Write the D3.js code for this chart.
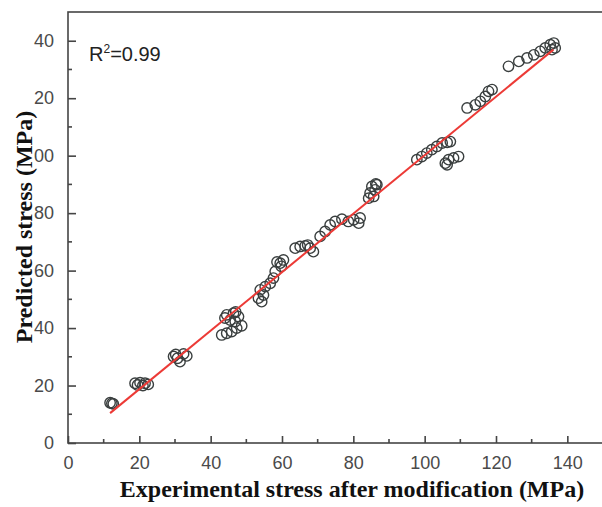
<!DOCTYPE html>
<html>
<head>
<meta charset="utf-8">
<script src="https://cdn.jsdelivr.net/npm/d3@7"></script>
<style>
  body { margin: 0; background: #fff; }
  svg { display: block; }
</style>
</head>
<body>
<svg id="chart" width="602" height="507"></svg>
<script>
// experimental (x) vs predicted (y)
var expStress = [
  11.8, 12.3, 12.7,
  18.8, 20.2, 21.6, 22.5, 19.5, 21,
  29.6, 30.7, 32.4, 33.3, 31.4, 30.2,
  44.5, 46.4, 47.8, 43.1, 44.5, 45.9, 47.3, 48.7, 45.5, 46.9, 44, 47,
  53.4, 54.3, 54.8, 53.9, 55.3, 56.7, 57.6, 58.1, 59.5, 60.4, 59.8, 58.6,
  63.7, 65.1, 66.5, 67.9, 68.8, 67.2,
  70.7, 72.1, 73.5, 74.9, 76.8, 78.6, 80.1, 81.9, 81.5,
  85.2, 86.1, 86.6, 84.7, 84.3, 85.7, 86.3,
  97.8, 99.2, 100.6, 102.0, 103.4, 104.9, 106.3, 107.2,
  105.8, 106.7, 108.1, 109.5, 106.3,
  111.9, 114.2, 115.6, 117.0, 117.9, 118.9,
  123.5, 126.4, 128.7, 130.6, 132.4, 133.8, 135.2, 136.2, 136.6, 135.7
];
var predStress = [
  14.0, 13.8, 13.6,
  20.8, 21.0, 20.8, 20.4, 20.2, 20.0,
  30.1, 29.5, 31.0, 30.3, 28.3, 30.8,
  44.6, 45.2, 44.0, 37.6, 38.2, 38.8, 40.0, 40.8, 42.8, 42.3, 43.5, 45.6,
  50.4, 49.2, 51.5, 53.3, 54.4, 55.6, 57.4, 59.7, 62.6, 63.7, 61.5, 63.0,
  67.8, 68.4, 68.6, 67.8, 66.6, 68.9,
  71.9, 73.6, 75.9, 77.1, 77.9, 77.1, 77.7, 78.3, 76.5,
  89.3, 88.1, 89.9, 87.0, 85.2, 85.8, 90.2,
  98.6, 99.7, 100.9, 102.1, 103.2, 104.4, 104.6, 104.9,
  97.4, 98.6, 99.2, 99.7, 96.8,
  116.6, 117.7, 118.9, 120.6, 122.4, 123.0,
  131.1, 132.8, 134.0, 135.1, 136.3, 137.5, 138.6, 139.2, 137.5, 136.9
];
// fitted line ends
var fitX = [11.8, 136.1];
var fitY = [10.4, 136.9];

var tickVals = [0, 20, 40, 60, 80, 100, 120, 140];
var xTickLabels = ['0', '20', '40', '60', '80', '100', '120', '140'];
var yTickLabels = ['0', '20', '40', '60', '80', '00', '20', '40'];

var svg = d3.select('#chart');

var x = d3.scaleLinear().domain([0, 150]).range([68, 603]);
var y = d3.scaleLinear().domain([0, 150]).range([443, 12]);

var axisColor = '#454545';
var tickFont = 'Liberation Sans, Arial, sans-serif';
var titleFont = 'Liberation Serif, Times New Roman, serif';

// frame
svg.append('rect')
  .attr('x', x(0)).attr('y', y(150))
  .attr('width', x(150) - x(0)).attr('height', y(0) - y(150))
  .attr('fill', 'none').attr('stroke', axisColor).attr('stroke-width', 1.6);

var minor = d3.range(10, 150, 20);

// x axis, ticks point inward
var xAxis = d3.axisBottom(x).tickValues(tickVals)
  .tickSize(-7).tickPadding(13)
  .tickFormat(function(d, i) { return xTickLabels[i]; });
var gx = svg.append('g').attr('transform', 'translate(0,' + y(0) + ')').call(xAxis);
gx.selectAll('.domain').remove();
gx.selectAll('line').attr('stroke', axisColor).attr('stroke-width', 1.6);
gx.selectAll('.tick text')
  .attr('font-family', tickFont)
  .attr('font-size', 18).attr('fill', '#4a4a4a');
svg.append('g').selectAll('line').data(minor).enter().append('line')
  .attr('x1', function(d) { return x(d); }).attr('x2', function(d) { return x(d); })
  .attr('y1', y(0)).attr('y2', y(0) - 4)
  .attr('stroke', axisColor).attr('stroke-width', 1.6);

// y axis
var yAxis = d3.axisLeft(y).tickValues(tickVals)
  .tickSize(-8).tickPadding(14)
  .tickFormat(function(d, i) { return yTickLabels[i]; });
var gy = svg.append('g').attr('transform', 'translate(' + x(0) + ',0)').call(yAxis);
gy.selectAll('.domain').remove();
gy.selectAll('line').attr('stroke', axisColor).attr('stroke-width', 1.6);
gy.selectAll('.tick text')
  .attr('font-family', tickFont)
  .attr('font-size', 18).attr('fill', '#4a4a4a');
svg.append('g').selectAll('line').data(minor).enter().append('line')
  .attr('y1', function(d) { return y(d); }).attr('y2', function(d) { return y(d); })
  .attr('x1', x(0)).attr('x2', x(0) + 4)
  .attr('stroke', axisColor).attr('stroke-width', 1.6);

// points
var pts = d3.zip(expStress, predStress);
svg.append('g').selectAll('circle').data(pts).enter().append('circle')
  .attr('cx', function(d) { return x(d[0]); })
  .attr('cy', function(d) { return y(d[1]); })
  .attr('r', 5.2)
  .attr('fill', 'none')
  .attr('stroke', '#3a3f3f')
  .attr('stroke-width', 1.4);

// fit line
var line = d3.line().x(function(d) { return x(d[0]); }).y(function(d) { return y(d[1]); });
svg.append('path')
  .datum(d3.zip(fitX, fitY))
  .attr('d', line)
  .attr('stroke', '#ec3a36').attr('stroke-width', 2)
  .attr('fill', 'none');

// R2 label
var r2 = svg.append('text')
  .attr('x', 89).attr('y', 61)
  .attr('font-family', tickFont)
  .attr('font-size', 20).attr('fill', '#222');
r2.append('tspan').text('R');
r2.append('tspan').attr('dy', -8).attr('font-size', 12).text('2');
r2.append('tspan').attr('dy', 8).text('=0.99');

// axis titles
svg.append('text')
  .attr('x', 352).attr('y', 497)
  .attr('text-anchor', 'middle')
  .attr('font-family', titleFont)
  .attr('font-weight', 'bold').attr('font-size', 24).attr('fill', '#111')
  .text('Experimental stress after modification (MPa)');

svg.append('text')
  .attr('transform', 'translate(32,227) rotate(-90)')
  .attr('text-anchor', 'middle')
  .attr('font-family', titleFont)
  .attr('font-weight', 'bold').attr('font-size', 24).attr('fill', '#111')
  .text('Predicted stress (MPa)');
</script>
</body>
</html>
